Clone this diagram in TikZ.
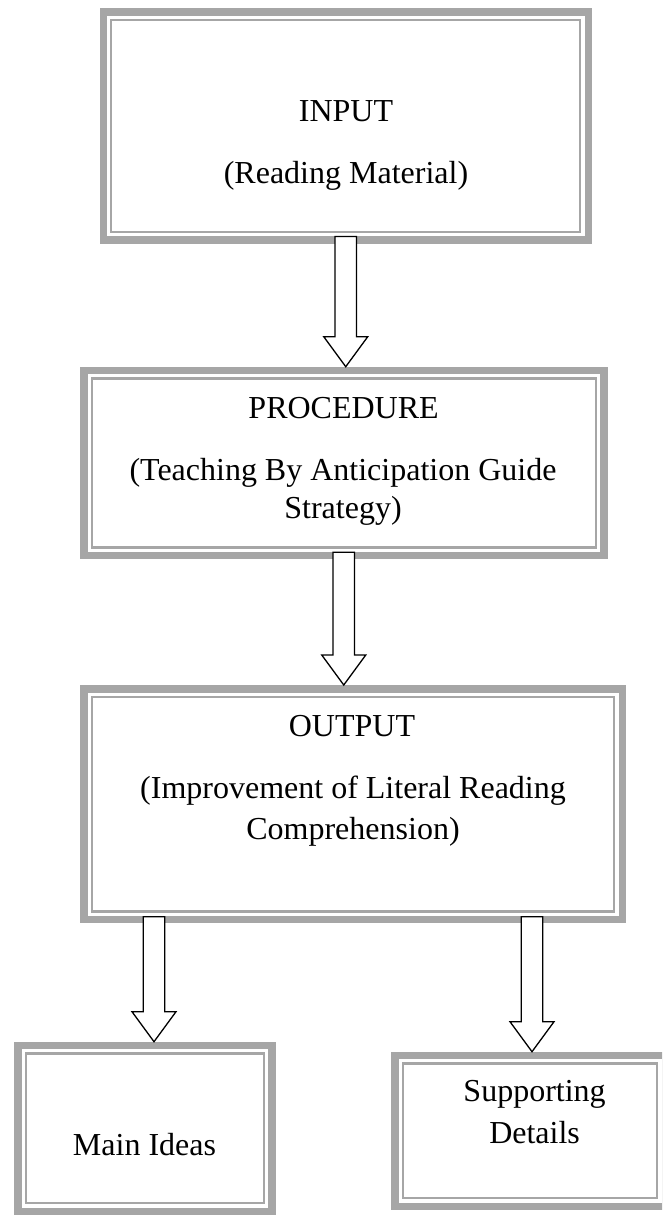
\documentclass[tikz,border=0pt]{standalone}
\usepackage{fontspec}
\setmainfont{Liberation Serif}
\usetikzlibrary{calc}
\tikzset{
  frame/.style={draw=black!35, line width=7.5pt, inner sep=0pt, outer sep=3.75pt, fill=white,
    path picture={\draw[black!35, line width=2.2pt]
      ([shift={(8pt,-8pt)}]path picture bounding box.north west) rectangle
      ([shift={(-8pt,8pt)}]path picture bounding box.south east);}},
  txt/.style={anchor=base, inner sep=0pt, font=\fontsize{32}{40}\selectfont},
  barrow/.style={draw=black, line width=1.3pt, fill=white, line join=miter}
}
\newcommand\blockarr[2]{%
  \draw[barrow] let \p1=#1, \p2=#2 in
    (\x1-10.75pt,\y1) -- (\x1-10.75pt,\y2+30pt) -- (\x1-22pt,\y2+30pt) -- (\x1,\y2)
    -- (\x1+22pt,\y2+30pt) -- (\x1+10.75pt,\y2+30pt) -- (\x1+10.75pt,\y1) -- cycle;}
\begin{document}
\begin{tikzpicture}[x=1pt,y=-1pt]
\useasboundingbox (0,0) rectangle (662,1216);
\clip (0,0) rectangle (662,1216);
% boxes
\node[frame, minimum width=485pt, minimum height=227.7pt] (in) at (345.75,125.9) {};
\node[frame, minimum width=520pt, minimum height=185.1pt] (pr) at (343.75,463) {};
\node[frame, minimum width=538.5pt, minimum height=230.8pt] (out) at (353,804.15) {};
\node[frame, minimum width=254.3pt, minimum height=165.8pt] (mi) at (144.9,1128.35) {};
\node[frame, minimum width=270.5pt, minimum height=150.8pt] (sd) at (530,1130.85) {};
% texts
\node[txt] (in1) at (346,121) {INPUT};
\node[txt] (in2) at (346,183) {(Reading Material)};
\node[txt] (pr1) at (343.6,418.3) {PROCEDURE};
\node[txt] (pr2) at (343,480) {(Teaching By Anticipation Guide};
\node[txt] (pr3) at (343,518.3) {Strategy)};
\node[txt] (out1) at (352,736.7) {OUTPUT};
\node[txt] (out2) at (353,798.3) {(Improvement of Literal Reading};
\node[txt] (out3) at (353,839.3) {Comprehension)};
\node[txt] (mi1) at (144.5,1155) {Main Ideas};
\node[txt] (sd1) at (534.6,1101.7) {Supporting};
\node[txt] (sd2) at (534.6,1143.3) {Details};
% arrows
\blockarr{([yshift=7pt]in.south)}{(pr.north)}
\blockarr{([yshift=7pt]pr.south)}{(out.north)}
\blockarr{([xshift=-199pt,yshift=6.5pt]out.south)}{(mi.north)}
\blockarr{([xshift=179pt,yshift=6.5pt]out.south)}{(sd.north)}
\end{tikzpicture}
\end{document}
